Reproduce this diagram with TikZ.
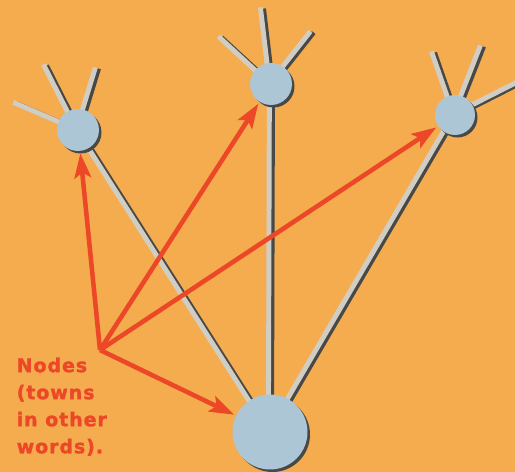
\documentclass[tikz,border=0pt]{standalone}
\usepackage{fontspec}
\newfontfamily\labelfont[LetterSpace=5, BoldFeatures={FakeBold=1.6}]{DejaVu Sans}
\usetikzlibrary{arrows.meta}
\definecolor{paper}{RGB}{245,172,78}
\definecolor{townblue}{RGB}{172,198,214}
\definecolor{roadlight}{RGB}{208,206,196}
\definecolor{roaddark}{RGB}{72,72,70}
\definecolor{pointred}{RGB}{236,72,40}
\tikzset{
  town/.style={circle, fill=townblue, inner sep=0pt},
  townshadow/.style={circle, fill=roaddark, inner sep=0pt},
  road/.style={draw=roadlight, line width=2.8pt},
  roadshadow/.style={draw=roaddark, line width=2.6pt},
  pointer/.style={draw=pointred, line width=2.6pt, -{Stealth[length=14pt, width=9.5pt, inset=3pt]}, shorten >=1pt},
}
\begin{document}
\begin{tikzpicture}[x=0.02cm, y=-0.02cm, >=stealth, thick]
	% 1. background
	\fill[paper] (0,0) rectangle (515,472);
	\useasboundingbox (0,0) rectangle (515,472);
	
	% 2. towns and stub ends
	\coordinate (left) at (78,130);
	\coordinate (mid) at (271,84);
	\coordinate (right) at (455,115);
	\coordinate (base) at (270,432);
	\coordinate (l1) at (15,103); \coordinate (l2) at (45,65); \coordinate (l3) at (97,68);
	\coordinate (m1) at (220,37); \coordinate (m2) at (262,8); \coordinate (m3) at (312,32);
	\coordinate (r1) at (433,52); \coordinate (r2) at (482,46); \coordinate (r3) at (520,82);
	
	% 3. roads (shadow first, then light side)
	\foreach \a/\b in {base/left, base/mid, base/right, left/l1, left/l2, left/l3, mid/m1, mid/m2, mid/m3, right/r1, right/r2, right/r3}{
		\draw[roadshadow] ([shift={(1.7,0.6)}]\a) -- ([shift={(1.7,0.6)}]\b);
		\draw[road] ([shift={(-1.6,-0.6)}]\a) -- ([shift={(-1.6,-0.6)}]\b);
	}
	
	% 4. town circles
	\foreach \t/\d in {left/42, mid/42, right/40, base/75}{
		\node[townshadow, minimum size=\d*0.02cm] at ([shift={(2.5,2.5)}]\t) {};
		\node[town, minimum size=\d*0.02cm] (\t-n) at (\t) {};
	}
	
	% 5. label and pointers
	\node[anchor=north west, align=left, text=pointred, font=\labelfont\bfseries\fontsize{10.8}{15.4}\selectfont, inner sep=0pt] (label) at (16,357) {Nodes\\(towns\\in other\\words).};
	\coordinate (hub) at (100,350);
	\draw[pointer] (hub) -- (left-n);
	\draw[pointer] (hub) -- (mid-n);
	\draw[pointer] (hub) -- (right-n);
	\draw[pointer] (hub) -- (base-n);
\end{tikzpicture}
\end{document}
